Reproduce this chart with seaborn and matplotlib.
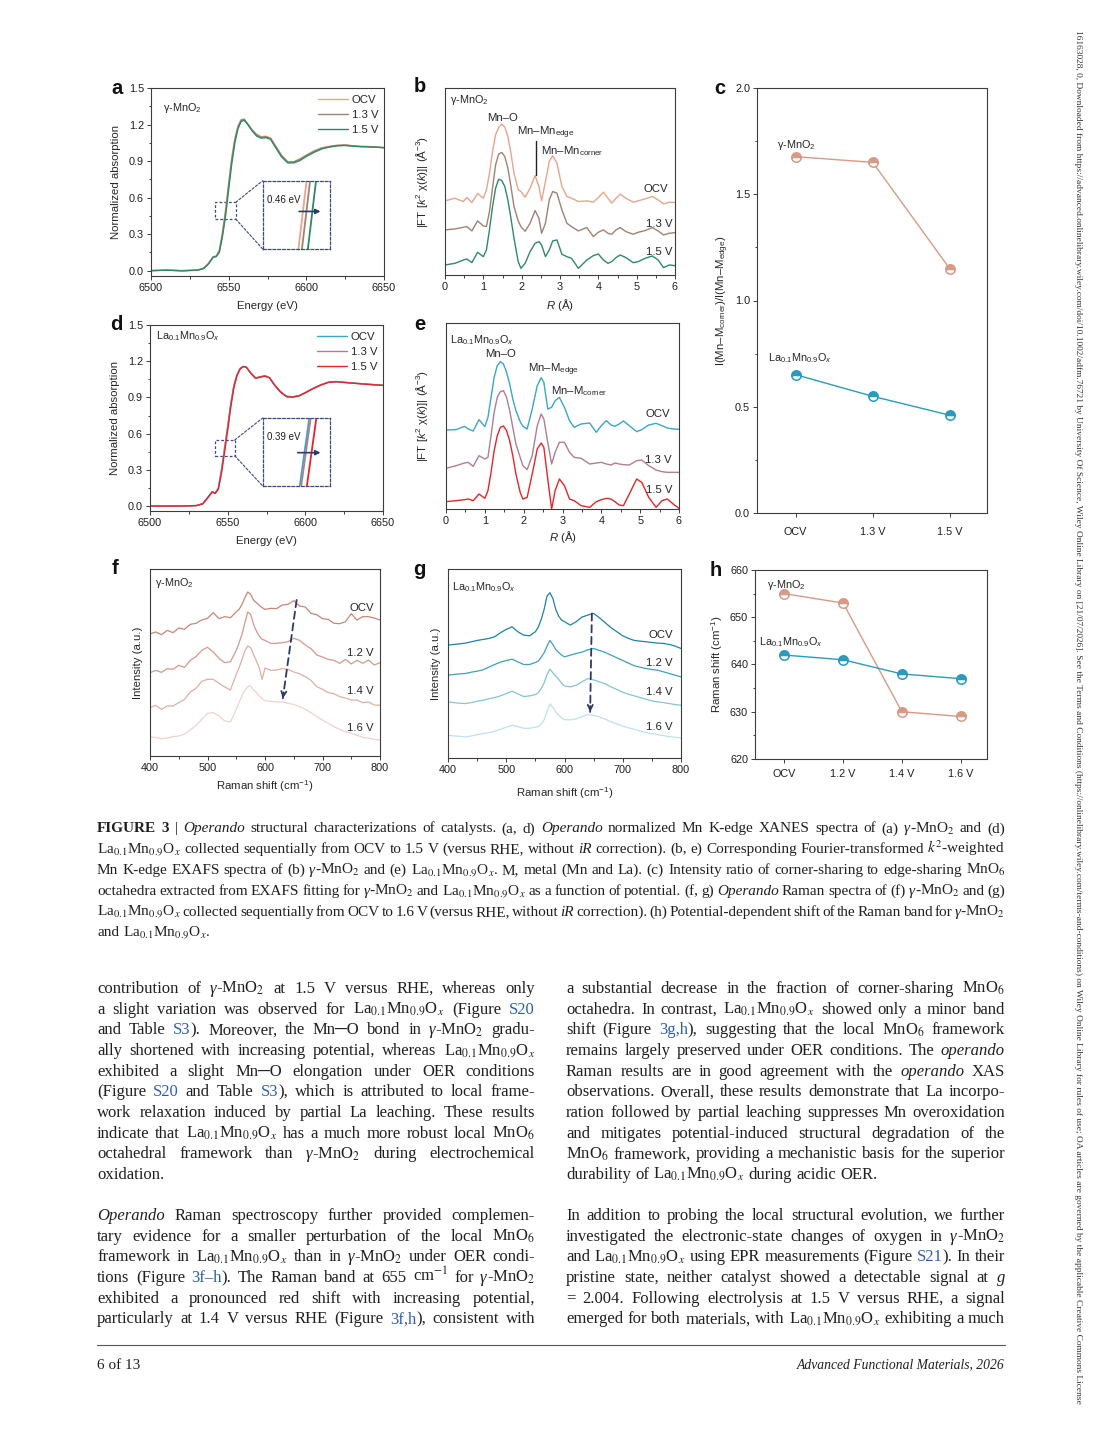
import re
import numpy as np
import pandas as pd
import matplotlib
matplotlib.use("Agg")
import matplotlib.pyplot as plt
import seaborn as sns
from matplotlib.patches import Rectangle, ConnectionPatch
from matplotlib.ticker import MultipleLocator, FormatStrFormatter

# ======================= DATA =======================
# (a, d) XANES energy grid (eV)
E_XANES = [6500, 6510, 6520, 6530, 6534, 6537, 6540, 6542, 6544, 6546, 6548, 6550, 6552, 6554,
           6556, 6558, 6560, 6562, 6565, 6568, 6571, 6574, 6577, 6580, 6584, 6588, 6592, 6596,
           6600, 6605, 6610, 6615, 6620, 6625, 6630, 6635, 6640, 6645, 6650]
XANES_GMO_OCV = [0.0, 0.005, 0.0, 0.005, 0.02, 0.06, 0.115, 0.12, 0.17, 0.32, 0.50, 0.72, 0.93, 1.09,
                 1.19, 1.24, 1.245, 1.21, 1.16, 1.12, 1.10, 1.105, 1.09, 1.03, 0.95, 0.895, 0.895, 0.92,
                 0.95, 0.985, 1.01, 1.02, 1.03, 1.035, 1.025, 1.02, 1.02, 1.015, 1.01]
XANES_GMO_13 = [0.0, 0.004, 0.0, 0.004, 0.02, 0.058, 0.112, 0.118, 0.16, 0.30, 0.481, 0.701, 0.91, 1.075,
                1.18, 1.235, 1.242, 1.21, 1.155, 1.115, 1.095, 1.10, 1.085, 1.025, 0.945, 0.892, 0.892, 0.915,
                0.945, 0.98, 1.005, 1.02, 1.028, 1.03, 1.025, 1.02, 1.018, 1.015, 1.01]
XANES_GMO_15 = [0.0, 0.004, -0.002, 0.004, 0.018, 0.055, 0.11, 0.115, 0.15, 0.28, 0.449, 0.669, 0.88, 1.05,
                1.165, 1.225, 1.235, 1.205, 1.15, 1.105, 1.088, 1.092, 1.078, 1.015, 0.935, 0.885, 0.885, 0.905,
                0.938, 0.972, 1.0, 1.015, 1.025, 1.028, 1.022, 1.018, 1.016, 1.013, 1.01]
XANES_LMO_OCV = [0.0, 0.0, 0.0, 0.004, 0.02, 0.07, 0.12, 0.108, 0.15, 0.30, 0.48, 0.66, 0.85, 1.0,
                 1.09, 1.14, 1.155, 1.15, 1.10, 1.06, 1.07, 1.078, 1.062, 1.005, 0.945, 0.908, 0.905, 0.915,
                 0.94, 0.975, 1.005, 1.025, 1.03, 1.025, 1.02, 1.015, 1.01, 1.005, 1.0]
XANES_LMO_13 = [0.0, 0.0, 0.0, 0.004, 0.02, 0.068, 0.118, 0.107, 0.148, 0.295, 0.473, 0.653, 0.845, 0.995,
                1.085, 1.14, 1.158, 1.152, 1.10, 1.062, 1.072, 1.08, 1.065, 1.008, 0.948, 0.91, 0.905, 0.915,
                0.94, 0.975, 1.005, 1.028, 1.032, 1.026, 1.02, 1.015, 1.01, 1.005, 1.0]
XANES_LMO_15 = [0.0, 0.0, 0.0, 0.004, 0.018, 0.065, 0.115, 0.105, 0.14, 0.27, 0.445, 0.625, 0.82, 0.98,
                1.08, 1.135, 1.155, 1.15, 1.098, 1.058, 1.068, 1.076, 1.062, 1.005, 0.945, 0.905, 0.902, 0.912,
                0.938, 0.972, 1.002, 1.025, 1.03, 1.024, 1.018, 1.013, 1.008, 1.004, 1.0]
XANES_LABELS = ["OCV", "1.3 V", "1.5 V"]

# (b, e) EXAFS |FT| (stacked, arbitrary units)
R_EXAFS = [0.00, 0.26, 0.48, 0.57, 0.70, 0.85, 1.00, 1.08, 1.16, 1.24, 1.32, 1.40, 1.48, 1.56, 1.64,
           1.72, 1.80, 1.91, 1.98, 2.09, 2.22, 2.35, 2.45, 2.52, 2.62, 2.72, 2.81, 2.92, 3.05, 3.18,
           3.30, 3.48, 3.70, 3.87, 4.00, 4.13, 4.25, 4.35, 4.46, 4.57, 4.72, 4.91, 5.04, 5.22, 5.41,
           5.56, 5.70, 5.85, 6.00]
FT_GMO_OCV = [2.22, 2.30, 2.20, 2.32, 2.17, 2.44, 2.30, 2.55, 3.05, 3.70, 4.20, 4.42, 4.52, 4.43, 4.15,
              3.65, 3.05, 2.55, 2.50, 2.33, 2.60, 2.98, 2.65, 2.22, 2.80, 3.40, 3.57, 3.35, 2.65, 2.35,
              2.30, 2.20, 2.22, 2.18, 2.32, 2.48, 2.30, 2.15, 2.30, 2.42, 2.30, 2.18, 2.22, 2.28, 2.35,
              2.25, 2.13, 2.18, 2.17]
FT_GMO_13 = [1.35, 1.38, 1.43, 1.45, 1.32, 1.62, 1.47, 1.45, 1.90, 2.60, 3.30, 3.62, 3.67, 3.55, 3.20,
             2.65, 2.05, 1.62, 1.45, 1.31, 1.55, 1.93, 1.70, 1.25, 1.55, 2.25, 2.50, 2.45, 1.95, 1.55,
             1.45, 1.32, 1.42, 1.15, 1.28, 1.35, 1.25, 1.22, 1.35, 1.42, 1.30, 1.22, 1.28, 1.33, 1.42,
             1.32, 1.20, 1.25, 1.27]
FT_GMO_15 = [0.30, 0.35, 0.45, 0.48, 0.37, 0.68, 0.55, 0.75, 1.35, 2.05, 2.60, 2.87, 2.83, 2.65, 2.25,
             1.70, 1.10, 0.40, 0.20, 0.35, 0.70, 0.95, 1.00, 0.90, 0.55, 0.75, 1.02, 1.05, 0.62, 0.55,
             0.50, 0.20, 0.45, 0.58, 0.63, 0.45, 0.35, 0.40, 0.52, 0.60, 0.52, 0.37, 0.40, 0.50, 0.57,
             0.45, 0.22, 0.30, 0.28]
FT_LMO_OCV = [2.37, 2.38, 2.48, 2.40, 2.34, 2.68, 2.47, 2.75, 3.35, 3.95, 4.30, 4.42, 4.35, 4.10, 3.75,
              3.30, 2.95, 2.62, 2.48, 2.40, 3.00, 3.70, 3.94, 3.80, 3.00, 3.05, 3.25, 3.35, 3.05, 2.65,
              2.45, 2.55, 2.58, 2.30, 2.50, 2.65, 2.52, 2.48, 2.55, 2.64, 2.50, 2.32, 2.38, 2.52, 2.57,
              2.50, 2.43, 2.40, 2.39]
FT_LMO_13 = [1.22, 1.30, 1.38, 1.40, 1.28, 1.60, 1.50, 1.55, 2.20, 2.90, 3.35, 3.52, 3.55, 3.35, 2.95,
             2.45, 1.95, 1.55, 1.30, 1.18, 1.60, 2.50, 2.85, 2.70, 2.00, 1.35, 1.70, 2.00, 2.00, 1.70,
             1.55, 1.52, 1.35, 1.38, 1.40, 1.35, 1.32, 1.38, 1.35, 1.33, 1.32, 1.45, 1.47, 1.30, 1.17,
             1.12, 1.10, 1.10, 1.10]
FT_LMO_15 = [0.22, 0.25, 0.28, 0.30, 0.25, 0.45, 0.32, 0.55, 1.10, 1.75, 2.20, 2.45, 2.49, 2.35, 2.05,
             1.60, 1.05, 0.50, 0.30, 0.35, 1.05, 1.80, 1.98, 1.85, 0.90, 0.00, 0.55, 0.90, 0.70, 0.30,
             0.25, 0.10, 0.05, 0.22, 0.28, 0.32, 0.30, 0.22, 0.12, 0.10, 0.45, 0.90, 0.80, 0.35, 0.05,
             0.25, 0.30, 0.15, 0.02]

# (c) intensity ratio corner/edge
C_CATS = ["OCV", "1.3 V", "1.5 V"]
RATIO_GMO = [1.677, 1.650, 1.148]
RATIO_LMO = [0.651, 0.549, 0.460]

# (f, g) Raman spectra (stacked, arbitrary units)
W_RAMAN = [400, 410, 420, 430, 440, 450, 460, 470, 480, 490, 500, 510, 520, 530, 540, 550,
           555, 560, 565, 570, 575, 580, 585, 590, 595,
           600, 610, 620, 630, 640, 650, 660, 670, 680, 690, 700, 710, 720, 730, 740, 750, 760,
           770, 780, 790, 800]
RAMAN_GMO_OCV = [3.66, 3.72, 3.64, 3.77, 3.70, 3.84, 3.80, 3.95, 3.98, 4.08, 4.13, 4.30, 4.12, 4.18, 4.15, 4.32,
                 4.40, 4.55, 4.75, 4.92, 4.85, 4.68, 4.60, 4.52, 4.45,
                 4.40, 4.43, 4.42, 4.53, 4.55, 4.66, 4.50, 4.47, 4.28, 4.24, 4.12, 4.10, 3.98, 3.97, 4.03,
                 4.27, 4.08, 4.18, 4.18, 4.14, 4.08]
RAMAN_GMO_12 = [2.50, 2.57, 2.51, 2.62, 2.60, 2.72, 2.66, 2.87, 2.98, 3.17, 3.26, 3.12, 2.93, 2.80, 2.83, 3.17,
                3.40, 3.65, 4.00, 4.32, 4.25, 3.95, 3.75, 3.60, 3.50,
                3.47, 3.38, 3.38, 3.40, 3.43, 3.53, 3.47, 3.33, 3.22, 3.03, 2.97, 2.90, 2.87, 2.78, 2.90,
                2.76, 2.87, 2.78, 2.88, 2.73, 2.80]
RAMAN_GMO_14 = [1.45, 1.52, 1.40, 1.50, 1.50, 1.60, 1.70, 1.92, 2.03, 2.24, 2.30, 2.30, 2.18, 2.07, 1.98, 2.45,
                2.65, 2.90, 3.15, 3.30, 3.25, 3.05, 2.85, 2.65, 2.30,
                2.64, 2.57, 2.58, 2.62, 2.60, 2.52, 2.47, 2.38, 2.27, 2.08, 2.00, 1.90, 1.87, 1.78, 1.74,
                1.68, 1.68, 1.60, 1.62, 1.53, 1.52]
RAMAN_GMO_16 = [0.58, 0.55, 0.52, 0.54, 0.58, 0.60, 0.66, 0.78, 0.92, 1.10, 1.28, 1.30, 1.20, 1.05, 1.02, 1.40,
                1.60, 1.82, 1.98, 2.08, 2.10, 1.98, 1.90, 1.80, 1.72,
                1.66, 1.64, 1.62, 1.62, 1.58, 1.55, 1.48, 1.40, 1.30, 1.18, 1.08, 0.98, 0.88, 0.80, 0.72,
                0.68, 0.62, 0.56, 0.54, 0.50, 0.48]
RAMAN_LMO_OCV = [3.38, 3.40, 3.42, 3.44, 3.48, 3.52, 3.55, 3.58, 3.63, 3.75, 3.85, 3.93, 3.78, 3.68, 3.66, 3.78,
                 3.92, 4.15, 4.45, 4.85, 4.95, 4.78, 4.45, 4.25, 4.13,
                 4.08, 3.98, 4.08, 4.22, 4.28, 4.33, 4.20, 4.05, 3.90, 3.78, 3.66, 3.58, 3.52, 3.50, 3.48,
                 3.46, 3.44, 3.43, 3.40, 3.35, 3.28]
RAMAN_LMO_12 = [2.48, 2.50, 2.52, 2.53, 2.57, 2.60, 2.64, 2.72, 2.80, 2.87, 2.92, 2.96, 2.88, 2.80, 2.80, 2.86,
                2.90, 3.02, 3.15, 3.35, 3.52, 3.40, 3.25, 3.16, 3.08,
                3.03, 3.08, 3.13, 3.17, 3.24, 3.28, 3.22, 3.16, 3.08, 3.00, 2.92, 2.84, 2.76, 2.72, 2.68,
                2.65, 2.63, 2.58, 2.53, 2.48, 2.43]
RAMAN_LMO_14 = [1.68, 1.66, 1.64, 1.63, 1.66, 1.70, 1.73, 1.77, 1.81, 1.86, 1.93, 2.00, 1.92, 1.84, 1.86, 1.90,
                1.95, 2.08, 2.25, 2.50, 2.66, 2.55, 2.45, 2.36, 2.24,
                2.16, 2.13, 2.18, 2.28, 2.38, 2.34, 2.28, 2.22, 2.13, 2.05, 1.97, 1.91, 1.86, 1.81, 1.76,
                1.71, 1.68, 1.66, 1.63, 1.60, 1.58]
RAMAN_LMO_16 = [0.68, 0.66, 0.65, 0.63, 0.66, 0.70, 0.73, 0.76, 0.80, 0.86, 0.92, 0.98, 0.94, 0.89, 0.89, 0.92,
                0.94, 1.02, 1.14, 1.40, 1.62, 1.52, 1.38, 1.28, 1.20,
                1.15, 1.14, 1.17, 1.24, 1.30, 1.28, 1.23, 1.16, 1.08, 1.02, 0.96, 0.90, 0.86, 0.81, 0.76,
                0.73, 0.70, 0.67, 0.64, 0.62, 0.60]
RAMAN_LABELS = ["OCV", "1.2 V", "1.4 V", "1.6 V"]

# (h) Raman band position
H_CATS = ["OCV", "1.2 V", "1.4 V", "1.6 V"]
SHIFT_GMO = [655, 653, 630, 629]
SHIFT_LMO = [642, 641, 638, 637]

# ======================= STYLE =======================
sns.set_style("ticks")
plt.rcParams.update({
    "font.family": ["Liberation Sans", "DejaVu Sans"],
    "mathtext.fontset": "custom",
    "mathtext.rm": "Liberation Sans",
    "mathtext.it": "Liberation Sans:italic",
    "mathtext.bf": "Liberation Sans:bold",
    "axes.linewidth": 0.8,
})

W, H = 1103, 1439
fig = plt.figure(figsize=(W / 100, H / 100), dpi=100)
fig.patch.set_facecolor("white")

EDGE = "#3c3c3c"
NAVY = "#2b3a6b"
C_GMO = ["#e9a48c", "#a08272", "#2e8a66"]
C_LMO = ["#3aa7c4", "#b07d95", "#e3262b"]
C_RAM_G = ["#c7877a", "#d29a8c", "#ddb0a3", "#f0d3ca"]
C_RAM_L = ["#1c84a6", "#3da0bf", "#82c4d8", "#bfe1eb"]
C_PT_G = "#d89a86"
C_PT_L = "#2a9bbf"
TS = 7.8   # tick size
LS = 8.2   # label size


def box(l, t, r, b):
    return [l / W, 1 - b / H, (r - l) / W, (b - t) / H]


def add_ax(l, t, r, b):
    ax = fig.add_axes(box(l, t, r, b))
    for sp in ax.spines.values():
        sp.set_visible(True)
        sp.set_linewidth(0.8)
        sp.set_color(EDGE)
    ax.tick_params(which="both", direction="out", width=0.7, colors=EDGE,
                   labelcolor="#1e1e1e", labelsize=TS, pad=2)
    ax.tick_params(which="major", length=3)
    ax.tick_params(which="minor", length=1.8)
    return ax


def frac(ax_px, px, py):
    l, t, r, b = ax_px
    return (px - l) / (r - l), 1 - (py - t) / (b - t)


def clean_labels(ax):
    ax.set_xlabel("")
    ax.set_ylabel("")
    lg = ax.get_legend()
    if lg is not None:
        lg.remove()


def panel_letter(x, y, s):
    fig.text(x / W, 1 - y / H, s, fontsize=14.5, fontweight="bold", ha="center", va="center",
             color="#111111")


# ---------- XANES panels ----------
def xanes_panel(pos, series, colors, inset_px, small_box, inset_lim, shift_txt, ylo):
    ax = add_ax(*pos)
    for y, c, lab in zip(series, colors, XANES_LABELS):
        sns.lineplot(x=E_XANES, y=y, ax=ax, color=c, lw=1.0, label=lab)
    clean_labels(ax)
    ax.set_xlim(6500, 6650)
    ax.set_ylim(ylo, 1.5)
    ax.xaxis.set_major_locator(MultipleLocator(50))
    ax.xaxis.set_minor_locator(MultipleLocator(25))
    ax.yaxis.set_major_locator(MultipleLocator(0.3))
    ax.yaxis.set_minor_locator(MultipleLocator(0.15))
    ax.yaxis.set_major_formatter(FormatStrFormatter("%.1f"))
    ax.set_xlabel("Energy (eV)", fontsize=LS)
    ax.set_ylabel("Normalized absorption", fontsize=LS)
    ax.xaxis.set_label_coords(0.5, -0.135)
    ax.yaxis.set_label_coords(-0.13, 0.5)
    ax.legend(loc="upper right", bbox_to_anchor=(0.975, 0.962), frameon=False, fontsize=LS,
              handlelength=2.6, handletextpad=0.35, labelspacing=0.45, borderaxespad=0, borderpad=0)
    # inset
    axin = fig.add_axes(box(*inset_px))
    for y, c in zip(series, colors):
        sns.lineplot(x=E_XANES, y=y, ax=axin, color=c, lw=1.3)
    clean_labels(axin)
    axin.set_xlim(*inset_lim[0])
    axin.set_ylim(*inset_lim[1])
    axin.set_xticks([])
    axin.set_yticks([])
    for sp in axin.spines.values():
        sp.set_visible(True)
        sp.set_linestyle((0, (2.2, 1.6)))
        sp.set_color("#3b4a80")
        sp.set_linewidth(0.9)
    x0, y0, x1, y1 = small_box
    ax.add_patch(Rectangle((x0, y0), x1 - x0, y1 - y0, fill=False, ec="#3b4a80", lw=0.9,
                           ls=(0, (2.2, 1.6))))
    for (xa, ya), (xb, yb) in [((x1, y1), (0, 1)), ((x1, y0), (0, 0))]:
        con = ConnectionPatch(xyA=(xa, ya), coordsA=ax.transData, xyB=(xb, yb), coordsB=axin.transAxes,
                              color="#3b4a80", lw=0.8, ls=(0, (2.2, 1.6)))
        fig.add_artist(con)
    axin.text(0.07, 0.72, shift_txt[0], transform=axin.transAxes, fontsize=7, ha="left", va="center",
              color="#1e1e1e")
    axin.annotate("", xy=(shift_txt[2], shift_txt[3]), xytext=(shift_txt[1], shift_txt[3]),
                  xycoords=axin.transAxes, textcoords=axin.transAxes,
                  arrowprops=dict(arrowstyle="-|>", color=NAVY, lw=1.2, mutation_scale=7))
    return ax


POS_A = (151, 88, 384, 276)
ax_a = xanes_panel(POS_A, [XANES_GMO_OCV, XANES_GMO_13, XANES_GMO_15], C_GMO,
                   (262.7, 180.7, 330, 249), (6541.3, 0.424, 6554.5, 0.561),
                   ((6546.23, 6549.53), (0.498, 0.542)), ("0.46 eV", 0.50, 0.90, 0.55), -0.044)
ax_a.text(*frac(POS_A, 163, 108), "γ-MnO$_2$", transform=ax_a.transAxes, fontsize=LS - 0.4,
          ha="left", va="center")

POS_D = (150, 325, 383, 511)
ax_d = xanes_panel(POS_D, [XANES_LMO_OCV, XANES_LMO_13, XANES_LMO_15], C_LMO,
                   (262.7, 418, 330, 486), (6541.6, 0.417, 6554.5, 0.547),
                   ((6546.15, 6549.85), (0.497, 0.544)), ("0.39 eV", 0.48, 0.90, 0.49), -0.041)
ax_d.text(*frac(POS_D, 156, 336), "La$_{0.1}$Mn$_{0.9}$O$_x$", transform=ax_d.transAxes,
          fontsize=LS - 0.4, ha="left", va="center")


# ---------- EXAFS panels ----------
def exafs_panel(pos, series, colors, ytop):
    ax = add_ax(*pos)
    for y, c in zip(series, colors):
        sns.lineplot(x=R_EXAFS, y=y, ax=ax, color=c, lw=1.0)
    clean_labels(ax)
    ax.set_xlim(0, 6)
    ax.set_ylim(0, ytop)
    ax.xaxis.set_major_locator(MultipleLocator(1))
    ax.xaxis.set_minor_locator(MultipleLocator(0.5))
    ax.set_yticks([])
    ax.tick_params(axis="y", which="both", left=False)
    ax.set_xlabel("$R$ (Å)", fontsize=LS)
    ax.set_ylabel("|FT [$k^2$ χ($k$)]| (Å$^{-3}$)", fontsize=LS)
    return ax


POS_B = (445, 88, 675, 275)
ax_b = exafs_panel(POS_B, [FT_GMO_OCV, FT_GMO_13, FT_GMO_15], C_GMO, 5.6)
ax_b.xaxis.set_label_coords(0.5, -0.12)
ax_b.yaxis.set_label_coords(-0.065, 0.5)
tb = ax_b.transAxes
ax_b.text(*frac(POS_B, 450, 100), "γ-MnO$_2$", transform=tb, fontsize=LS - 0.4, ha="left", va="center")
ax_b.text(*frac(POS_B, 502, 118), "Mn–O", transform=tb, fontsize=LS, ha="center", va="center")
ax_b.text(*frac(POS_B, 517, 133), "Mn–Mn$_{\\rm edge}$", transform=tb, fontsize=LS, ha="left", va="center")
ax_b.text(*frac(POS_B, 541, 151), "Mn–Mn$_{\\rm corner}$", transform=tb, fontsize=LS, ha="left", va="center")
ax_b.plot([2.366, 2.366], [3.0, 4.02], color="#222222", lw=1.0)
for lab, (px, py) in zip(XANES_LABELS, [(668, 189), (673, 224), (673, 252)]):
    ax_b.text(*frac(POS_B, px, py), lab, transform=tb, fontsize=LS, ha="right", va="center")

POS_E = (446, 323, 679, 509)
ax_e = exafs_panel(POS_E, [FT_LMO_OCV, FT_LMO_13, FT_LMO_15], C_LMO, 5.58)
ax_e.xaxis.set_label_coords(0.5, -0.11)
ax_e.yaxis.set_label_coords(-0.069, 0.5)
te = ax_e.transAxes
ax_e.text(*frac(POS_E, 450, 340), "La$_{0.1}$Mn$_{0.9}$O$_x$", transform=te, fontsize=LS - 0.4,
          ha="left", va="center")
ax_e.text(*frac(POS_E, 500, 354), "Mn–O", transform=te, fontsize=LS, ha="center", va="center")
ax_e.text(*frac(POS_E, 528, 370), "Mn–M$_{\\rm edge}$", transform=te, fontsize=LS, ha="left", va="center")
ax_e.text(*frac(POS_E, 551, 391), "Mn–M$_{\\rm corner}$", transform=te, fontsize=LS, ha="left", va="center")
for lab, (px, py) in zip(XANES_LABELS, [(670, 414), (672, 460), (672, 490)]):
    ax_e.text(*frac(POS_E, px, py), lab, transform=te, fontsize=LS, ha="right", va="center")


# ---------- point panels ----------
def point_panel(pos, cats, s1, s2):
    ax = add_ax(*pos)
    xs = list(range(len(cats)))
    for vals, c in [(s1, C_PT_G), (s2, C_PT_L)]:
        sns.lineplot(x=xs, y=vals, ax=ax, color=c, lw=1.0, marker="o", markersize=6.8,
                     fillstyle="top", markerfacecoloralt="white", markeredgecolor=c,
                     markeredgewidth=1.1)
    clean_labels(ax)
    ax.set_xticks(xs)
    ax.set_xticklabels(cats)
    return ax


POS_C = (757, 88, 987, 513)
ax_c = point_panel(POS_C, C_CATS, RATIO_GMO, RATIO_LMO)
ax_c.set_xlim(-0.5, 2.48)
ax_c.set_ylim(0, 2.0)
ax_c.yaxis.set_major_locator(MultipleLocator(0.5))
ax_c.yaxis.set_minor_locator(MultipleLocator(0.25))
ax_c.yaxis.set_major_formatter(FormatStrFormatter("%.1f"))
ax_c.tick_params(axis="x", pad=7)
ax_c.set_ylabel("I(Mn–M$_{\\rm corner}$)/I(Mn–M$_{\\rm edge}$)", fontsize=LS)
ax_c.yaxis.set_label_coords(-0.115, 0.5)
ax_c.text(*frac(POS_C, 777, 145), "γ-MnO$_2$", transform=ax_c.transAxes, fontsize=LS - 0.4,
          ha="left", va="center")
ax_c.text(*frac(POS_C, 768, 358), "La$_{0.1}$Mn$_{0.9}$O$_x$", transform=ax_c.transAxes,
          fontsize=LS - 0.4, ha="left", va="center")

POS_H = (755, 570, 987, 759)
ax_h = point_panel(POS_H, H_CATS, SHIFT_GMO, SHIFT_LMO)
ax_h.set_xlim(-0.5, 3.45)
ax_h.set_ylim(620, 660)
ax_h.yaxis.set_major_locator(MultipleLocator(10))
ax_h.yaxis.set_minor_locator(MultipleLocator(5))
ax_h.tick_params(axis="x", pad=4)
ax_h.set_ylabel("Raman shift (cm$^{-1}$)", fontsize=LS)
ax_h.yaxis.set_label_coords(-0.13, 0.5)
ax_h.text(*frac(POS_H, 767, 585), "γ-MnO$_2$", transform=ax_h.transAxes, fontsize=LS - 0.4,
          ha="left", va="center")
ax_h.text(*frac(POS_H, 759, 642), "La$_{0.1}$Mn$_{0.9}$O$_x$", transform=ax_h.transAxes,
          fontsize=LS - 0.4, ha="left", va="center")


# ---------- Raman panels ----------
def raman_panel(pos, series, colors, ytop, arrow):
    ax = add_ax(*pos)
    for y, c in zip(series, colors):
        sns.lineplot(x=W_RAMAN, y=y, ax=ax, color=c, lw=0.9)
    clean_labels(ax)
    ax.set_xlim(400, 800)
    ax.set_ylim(0, ytop)
    ax.xaxis.set_major_locator(MultipleLocator(100))
    ax.xaxis.set_minor_locator(MultipleLocator(50))
    ax.set_yticks([])
    ax.tick_params(axis="y", which="both", left=False)
    ax.set_xlabel("Raman shift (cm$^{-1}$)", fontsize=LS)
    ax.set_ylabel("Intensity (a.u.)", fontsize=LS)
    (xs, ys), (xe, ye) = arrow
    ax.annotate("", xy=(xe, ye), xytext=(xs, ys),
                arrowprops=dict(arrowstyle="-", color=NAVY, lw=1.3, ls=(0, (4, 2.5)),
                                shrinkA=0, shrinkB=0))
    dx, dy = xe - xs, ye - ys
    ax.annotate("", xy=(xe, ye), xytext=(xe - dx * 0.06, ye - dy * 0.06),
                arrowprops=dict(arrowstyle="->", color=NAVY, lw=1.3, mutation_scale=9,
                                shrinkA=0, shrinkB=0))
    return ax


POS_F = (150, 569, 380, 756)
ax_f = raman_panel(POS_F, [RAMAN_GMO_OCV, RAMAN_GMO_12, RAMAN_GMO_14, RAMAN_GMO_16], C_RAM_G, 5.61,
                   ((655, 4.68), (631, 1.73)))
ax_f.xaxis.set_label_coords(0.5, -0.12)
ax_f.yaxis.set_label_coords(-0.03, 0.5)
ax_f.text(*frac(POS_F, 155, 583), "γ-MnO$_2$", transform=ax_f.transAxes, fontsize=LS - 0.4,
          ha="left", va="center")
for lab, py in zip(RAMAN_LABELS, [608, 653, 691, 728]):
    ax_f.text(*frac(POS_F, 374, py), lab, transform=ax_f.transAxes, fontsize=LS, ha="right", va="center")

POS_G = (448, 569, 681, 758)
ax_g = raman_panel(POS_G, [RAMAN_LMO_OCV, RAMAN_LMO_12, RAMAN_LMO_14, RAMAN_LMO_16], C_RAM_L, 5.66,
                   ((647, 4.33), (644, 1.38)))
ax_g.xaxis.set_label_coords(0.5, -0.145)
ax_g.yaxis.set_label_coords(-0.03, 0.5)
ax_g.text(*frac(POS_G, 452, 587), "La$_{0.1}$Mn$_{0.9}$O$_x$", transform=ax_g.transAxes,
          fontsize=LS - 0.4, ha="left", va="center")
for lab, py in zip(RAMAN_LABELS, [635, 663, 692, 727]):
    ax_g.text(*frac(POS_G, 673, py), lab, transform=ax_g.transAxes, fontsize=LS, ha="right", va="center")

for s, (x, y) in zip("abcdefgh", [(117, 88), (420, 87), (720, 88), (116, 325), (420, 325),
                                  (115, 568), (419, 569), (716, 570)]):
    panel_letter(x, y, s)

# ======================= PAGE TEXT =======================
SERIF = ["Liberation Serif", "DejaVu Serif", "DejaVu Sans"]
INK = "#231f20"
LINK = "#2c5fb3"
renderer = fig.canvas.get_renderer()
TOKEN_RE = re.compile(r"\[\[([ibl])\|(.*?)\]\]")
GMO = "[[i|γ]]-MnO$_2$"
LMO = "La$_{0.1}$Mn$_{0.9}$O$_x$"


def parse_token(tok):
    segs, pos = [], 0
    for m in TOKEN_RE.finditer(tok):
        if m.start() > pos:
            segs.append((tok[pos:m.start()], "n"))
        segs.append((m.group(2), m.group(1)))
        pos = m.end()
    if pos < len(tok):
        segs.append((tok[pos:], "n"))
    return segs


def make_text(s, style, size):
    kw = dict(fontsize=size, family=SERIF, math_fontfamily="stix", va="baseline", ha="left", color=INK)
    if style == "i":
        kw["style"] = "italic"
    elif style == "b":
        kw["weight"] = "bold"
    elif style == "l":
        kw["color"] = LINK
    return fig.text(0, 0, s, **kw)


def text_line(line, x0, x1, ybase, size, justify=True):
    line = line.replace("GMO", GMO).replace("LMO", LMO)
    words = []
    for tok in line.split(" "):
        arts = [make_text(s, st, size) for s, st in parse_token(tok)]
        widths = [a.get_window_extent(renderer).width for a in arts]
        words.append((arts, widths))
    total = sum(sum(w) for _, w in words)
    if justify and len(words) > 1:
        gap = (x1 - x0 - total) / (len(words) - 1)
    else:
        gap = size * 1.389 * 0.25
    x = x0
    for arts, widths in words:
        for a, w in zip(arts, widths):
            a.set_position((x / W, 1 - ybase / H))
            x += w
        x += gap


CAPTION = [
    "[[b|FIGURE]] [[b|3]] | [[i|Operando]] structural characterizations of catalysts. (a, d) [[i|Operando]] normalized Mn K-edge XANES spectra of (a) GMO and (d)",
    "LMO collected sequentially from OCV to 1.5 V (versus RHE, without [[i|iR]] correction). (b, e) Corresponding Fourier-transformed $k^2$-weighted",
    "Mn K-edge EXAFS spectra of (b) GMO and (e) LMO. M, metal (Mn and La). (c) Intensity ratio of corner-sharing to edge-sharing MnO$_6$",
    "octahedra extracted from EXAFS fitting for GMO and LMO as a function of potential. (f, g) [[i|Operando]] Raman spectra of (f) GMO and (g)",
    "LMO collected sequentially from OCV to 1.6 V (versus RHE, without [[i|iR]] correction). (h) Potential-dependent shift of the Raman band for GMO",
    "and LMO.",
]
for i, ln in enumerate(CAPTION):
    text_line(ln, 97, 1005, 832.5 + 20.8 * i, 10.95, justify=(i < len(CAPTION) - 1))

LEFT_P1 = [
    "contribution of GMO at 1.5 V versus RHE, whereas only",
    "a slight variation was observed for LMO (Figure [[l|S20]]",
    "and Table [[l|S3]]). Moreover, the Mn─O bond in GMO gradu-",
    "ally shortened with increasing potential, whereas LMO",
    "exhibited a slight Mn─O elongation under OER conditions",
    "(Figure [[l|S20]] and Table [[l|S3]]), which is attributed to local frame-",
    "work relaxation induced by partial La leaching. These results",
    "indicate that LMO has a much more robust local MnO$_6$",
    "octahedral framework than GMO during electrochemical",
    "oxidation.",
]
LEFT_P2 = [
    "[[i|Operando]] Raman spectroscopy further provided complemen-",
    "tary evidence for a smaller perturbation of the local MnO$_6$",
    "framework in LMO than in GMO under OER condi-",
    "tions (Figure [[l|3f–h]]). The Raman band at 655 cm$^{-1}$ for GMO",
    "exhibited a pronounced red shift with increasing potential,",
    "particularly at 1.4 V versus RHE (Figure [[l|3f,h]]), consistent with",
]
RIGHT_P1 = [
    "a substantial decrease in the fraction of corner-sharing MnO$_6$",
    "octahedra. In contrast, LMO showed only a minor band",
    "shift (Figure [[l|3g,h]]), suggesting that the local MnO$_6$ framework",
    "remains largely preserved under OER conditions. The [[i|operando]]",
    "Raman results are in good agreement with the [[i|operando]] XAS",
    "observations. Overall, these results demonstrate that La incorpo-",
    "ration followed by partial leaching suppresses Mn overoxidation",
    "and mitigates potential-induced structural degradation of the",
    "MnO$_6$ framework, providing a mechanistic basis for the superior",
    "durability of LMO during acidic OER.",
]
RIGHT_P2 = [
    "In addition to probing the local structural evolution, we further",
    "investigated the electronic-state changes of oxygen in GMO",
    "and LMO using EPR measurements (Figure [[l|S21]]). In their",
    "pristine state, neither catalyst showed a detectable signal at [[i|g]]",
    "= 2.004. Following electrolysis at 1.5 V versus RHE, a signal",
    "emerged for both materials, with LMO exhibiting a much",
]
BODY_SIZE = 12.0
STEP = 20.65
for (x0, x1), p1, p2 in [((97, 535), LEFT_P1, LEFT_P2), ((566, 1005), RIGHT_P1, RIGHT_P2)]:
    for i, ln in enumerate(p1):
        text_line(ln, x0, x1, 993 + STEP * i, BODY_SIZE, justify=(i < len(p1) - 1))
    for i, ln in enumerate(p2):
        text_line(ln, x0, x1, 1220 + STEP * i, BODY_SIZE, justify=True)

# footer
fig.add_artist(plt.Line2D([97 / W, 1005 / W], [1 - 1345 / H, 1 - 1345 / H], color="#555555", lw=0.8))
fig.text(97 / W, 1 - 1369 / H, "6 of 13", fontsize=11, family=SERIF, color=INK, ha="left", va="baseline")
fig.text(1005 / W, 1 - 1368 / H, "Advanced Functional Materials, 2026", fontsize=9.8, family=SERIF,
         style="italic", color=INK, ha="right", va="baseline")

# vertical side text
SIDE = ("16163028, 0, Downloaded from https://advanced.onlinelibrary.wiley.com/doi/10.1002/adfm.76721 "
        "by University Of Science, Wiley Online Library on [21/07/2026]. See the Terms and Conditions "
        "(https://onlinelibrary.wiley.com/terms-and-conditions) on Wiley Online Library for rules of use; "
        "OA articles are governed by the applicable Creative Commons License")
st = fig.text(1078 / W, 1 - 30 / H, SIDE, fontsize=7, family=SERIF, color="#333333", rotation=270,
              ha="center", va="top")
hgt = st.get_window_extent(renderer).height
st.set_fontsize(7 * 1380 / hgt)

fig.savefig("out.png", dpi=100, facecolor="white")
